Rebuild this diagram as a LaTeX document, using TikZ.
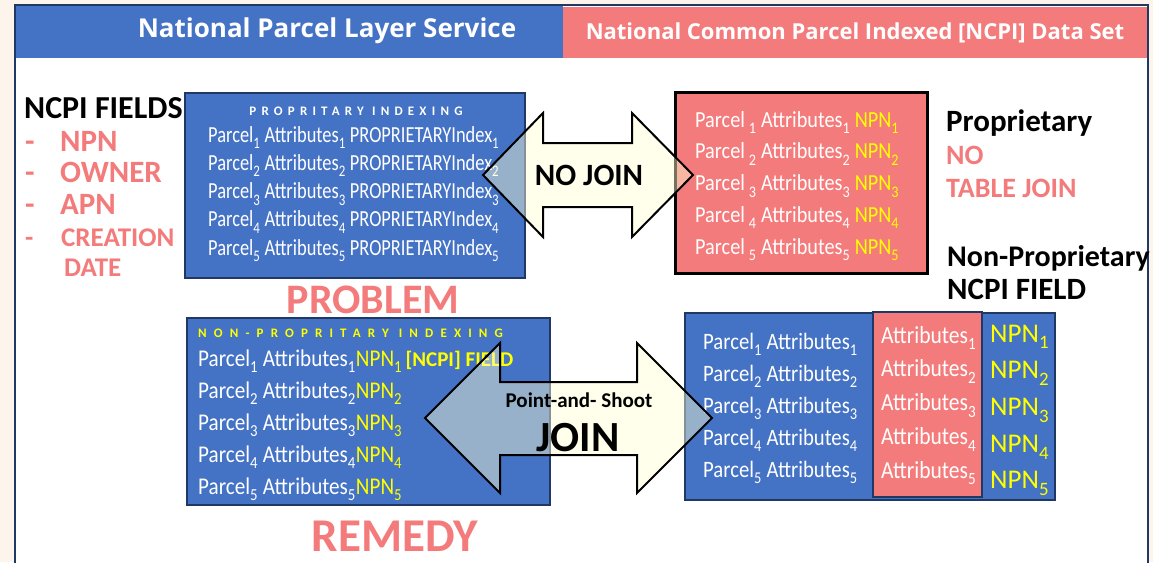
\documentclass[tikz,border=0pt]{standalone}
\usepackage{fontspec}
\setmainfont{Carlito}
\newfontfamily\narrow[FakeStretch=0.88]{Carlito}
\newfontfamily\condfont[FakeStretch=0.8]{Carlito}
\newfontfamily\headfont{Open Sans}
\newfontfamily\spacedfont[LetterSpace=40]{Carlito}
\newfontfamily\widefont[LetterSpace=55]{Carlito}
\newcommand{\subn}[1]{\raisebox{-0.12em}{\textsubscript{#1}}}
\newcommand{\px}[1]{\fontsize{#1}{#1}\selectfont}

\definecolor{HeadBlue}{HTML}{4472C4}
\definecolor{Coral}{HTML}{F47B7B}
\definecolor{Navy}{HTML}{203864}
\definecolor{Cream}{HTML}{FDF4EC}
\definecolor{ArrowFill}{HTML}{FFFFD4}
\definecolor{Yel}{HTML}{FFFF00}

\tikzset{
  panel/.style={draw=Navy, line width=2pt, fill=HeadBlue},
  rowtext/.style={anchor=base west, text=white, font=\narrow\px{#1}},
  condensed/.style={anchor=base west, text=white, font=\condfont\px{#1}},
  boldtext/.style={font=\bfseries\px{#1}},
  blockarrow/.style={draw=black, line width=2pt, fill=ArrowFill, fill opacity=0.45, line join=miter}
}

\begin{document}
\begin{tikzpicture}[x=1pt, y=-1pt, every node/.style={inner sep=0pt}]
  \useasboundingbox (0,0) rectangle (1153,562);
  \fill[Cream] (0,0) rectangle (1153,562);
  \draw[Navy, line width=2pt, fill=white] (15,5) rectangle (1148,590);
  \fill[HeadBlue] (16,6) rectangle (563,58);
  \fill[Coral] (563,7) rectangle (1147,58);

  \node (LayerTitle) at (327,31) [text=white, font=\headfont\bfseries\px{26}] {National Parcel Layer Service};
  \node (SetTitle) at (855,33) [text=white, font=\headfont\bfseries\px{22}] {National Common Parcel Indexed [NCPI] Data Set};

  % ncpi field list
  \node (Fields) at (24,108) [anchor=west, boldtext=32] {NCPI FIELDS};
  \node (FieldNPN) at (25,141) [anchor=west, boldtext=31, text=Coral] {\makebox[35pt][l]{-}NPN};
  \node (FieldOwner) at (25,172) [anchor=west, boldtext=31, text=Coral] {\makebox[35pt][l]{-}OWNER};
  \node (FieldAPN) at (25,204) [anchor=west, boldtext=31, text=Coral] {\makebox[35pt][l]{-}APN};
  \node (FieldCreation) at (25,238) [anchor=west, boldtext=27, text=Coral] {\makebox[36pt][l]{-}CREATION};
  \node (FieldDate) at (64,268) [anchor=west, boldtext=27, text=Coral] {DATE};

  % problem
  \node (PropBox) at (355,185.5) [panel, minimum width=340, minimum height=185] {};
  \node (PropHead) at (356,111) [text=white, font=\spacedfont\bfseries\px{13}] {PROPRITARY INDEXING};
  \foreach \i in {1,...,5}
    \node (RowA\i) at (208,{142+28.3*(\i-1)}) [condensed=23] {Parcel\subn{\i} Attributes\subn{\i} PROPRIETARYIndex\subn{\i}};

  \node (NcpiBox) at (801,182.5) [draw=black, line width=3pt, fill=Coral, minimum width=252, minimum height=181] {};
  \foreach \i in {1,...,5}
    \node (RowB\i) at (695,{127+31.8*(\i-1)}) [rowtext=23] {Parcel\,\subn{\i} Attributes\subn{\i} \textcolor{Yel}{NPN\subn{\i}}};

  \node (Proprietary) at (946,123) [anchor=west, boldtext=31] {Proprietary};
  \node (No) at (946,155) [anchor=west, boldtext=28, text=Coral] {NO};
  \node (TableJoin) at (946,188) [anchor=west, boldtext=28, text=Coral] {TABLE JOIN};
  \node (NonProp) at (947,258) [anchor=west, boldtext=30] {Non-Proprietary};
  \node (NcpiField) at (947,289) [anchor=west, boldtext=31] {NCPI FIELD};

  \node (Problem) at (373,300) [boldtext=42, text=Coral] {PROBLEM};

  % remedy
  \node (NonPropBox) at (368.5,411.5) [panel, minimum width=363, minimum height=187] {};
  \node (NonPropHead) at (198,333) [anchor=west, text=Yel, font=\widefont\bfseries\px{13}] {NON-PROPRITARY INDEXING};
  \foreach \i in {1,...,5}
    \node (RowC\i) at (198,{366+32*(\i-1)}) [rowtext=24] {Parcel\subn{\i} Attributes\subn{\i}\textcolor{Yel}{NPN\subn{\i}}};
  \node (FieldTag) at (RowC1.base east) [anchor=base west, xshift=3pt, text=Yel, boldtext=21] {[NCPI] FIELD};

  \node (JoinBox) at (870,406.5) [panel, minimum width=370, minimum height=187] {};
  \node (AttrCol) at (927.5,404.5) [draw=Navy, line width=2pt, fill=Coral, minimum width=109, minimum height=185] {};
  \foreach \i in {1,...,5} {
    \node (RowD\i) at (703,{349+32*(\i-1)}) [rowtext=23.5] {Parcel\subn{\i} Attributes\subn{\i}};
    \node (Attr\i) at (881,{343+33.8*(\i-1)}) [rowtext=24.5] {Attributes\subn{\i}};
    \node (Npn\i) at (990,{342+36.7*(\i-1)}) [anchor=base west, text=Yel, font=\px{27}] {NPN\subn{\i}};
  }

  \node (Remedy) at (395,536) [boldtext=47, text=Coral] {REMEDY};

  % block arrows
  \draw[blockarrow] (483,175) -- (543,113) -- (543,143) -- (632,143) -- (632,113) -- (693,175)
    -- (632,237) -- (632,207) -- (543,207) -- (543,237) -- cycle;
  \node (NoJoin) at (589,175) [boldtext=31] {NO JOIN};

  \draw[blockarrow] (425,418) -- (500,343) -- (500,382) -- (637,382) -- (637,343) -- (712,418)
    -- (637,493) -- (637,455) -- (500,455) -- (500,493) -- cycle;
  \node (Shoot) at (579,400) [boldtext=21] {Point-and- Shoot};
  \node (Join) at (578,438) [boldtext=43] {JOIN};
\end{tikzpicture}
\end{document}
